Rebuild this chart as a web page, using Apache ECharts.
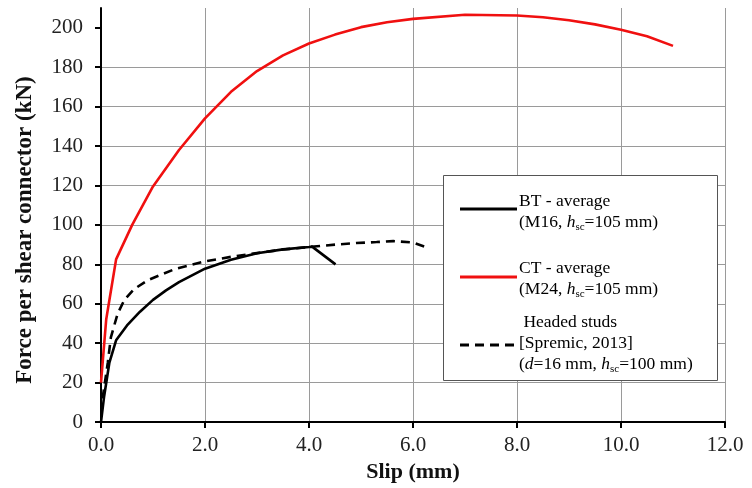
<!DOCTYPE html>
<html>
<head>
<meta charset="utf-8">
<script src="https://cdn.jsdelivr.net/npm/echarts@6/dist/echarts.min.js"></script>
<style>html,body{margin:0;padding:0;background:#fff}#c{width:752px;height:488px}</style>
</head>
<body>
<div id="c"></div>
<script>
// Slip (mm) values and force (kN) values
var btSlip  = [0, 0.06, 0.16, 0.29, 0.5, 0.75, 1.0, 1.25, 1.5, 2.0, 2.5, 3.0, 3.5, 4.0, 4.06, 4.51];
var btForce = [0, 13, 30, 41.5, 49, 56, 62, 66.8, 71, 77.8, 82.3, 85.6, 87.6, 88.8, 89, 80];

var ctSlip  = [0, 0.05, 0.1, 0.29, 0.6, 1.0, 1.5, 2.0, 2.5, 3.0, 3.5, 4.0, 4.5, 5.0, 5.5, 6.0, 7.0, 8.0, 8.5, 9.0, 9.5, 10.0, 10.5, 11.0];
var ctForce = [20, 36, 52, 82.5, 100, 119.5, 138, 154, 167.5, 178, 186, 192, 196.5, 200.3, 202.8, 204.5, 206.6, 206.2, 205.3, 203.8, 201.7, 199, 195.7, 190.8];

var hsSlip  = [0.03, 0.13, 0.19, 0.32, 0.45, 0.64, 0.9, 1.41, 2.0, 2.5, 3.0, 3.5, 4.0, 4.5, 4.91, 5.3, 5.62, 6.0, 6.32];
var hsForce = [12, 30, 43, 55, 62, 67.5, 72, 77.5, 81.5, 83.8, 85.7, 87.5, 88.8, 90, 90.8, 91.3, 91.8, 91.1, 88.1];

var xTicks = [0, 2, 4, 6, 8, 10, 12];
var yTicks = [0, 20, 40, 60, 80, 100, 120, 140, 160, 180, 200];

function pairs(xs, ys){ return xs.map(function(x,i){ return [x, ys[i]]; }); }

var serif = '"Liberation Serif", "DejaVu Serif", serif';
var chart = echarts.init(document.getElementById('c'));
var rich = {
  n: {fontFamily: serif, fontSize: 17.5, color: '#222', lineHeight: 21},
  i: {fontFamily: serif, fontSize: 17.5, color: '#222', fontStyle: 'italic', lineHeight: 21},
  s: {fontFamily: serif, fontSize: 11, color: '#222', lineHeight: 21, verticalAlign: 'bottom', padding: [8, 0, 0, 0]}
};
chart.setOption({
  animation: false,
  backgroundColor: '#fff',
  grid: {left: 101, right: 27, top: 8, bottom: 64, containLabel: false},
  xAxis: {
    type: 'value', min: 0, max: 12, interval: 2,
    name: 'Slip (mm)', nameLocation: 'middle', nameGap: 29,
    nameTextStyle: {fontFamily: serif, fontWeight: 'bold', fontSize: 22, color: '#111'},
    axisLine: {lineStyle: {color: '#000', width: 2}},
    axisTick: {show: true, inside: false, length: 6, lineStyle: {color: '#000', width: 2}},
    axisLabel: {margin: 13, fontFamily: serif, fontSize: 21, color: '#222',
      formatter: function(v){ return xTicks.indexOf(v) >= 0 ? v.toFixed(1) : ''; }},
    splitLine: {show: true, lineStyle: {color: '#9a9a9a', width: 1}}
  },
  yAxis: {
    type: 'value', min: 0, max: 210, interval: 20,
    name: 'Force per shear connector (kN)', nameLocation: 'middle', nameGap: 64,
    nameTextStyle: {fontFamily: serif, fontWeight: 'bold', fontSize: 23, color: '#111', padding: [0, 30, 0, 0]},
    axisLine: {show: true, lineStyle: {color: '#000', width: 2}},
    axisTick: {show: true, inside: false, length: 6, customValues: yTicks, lineStyle: {color: '#000', width: 2}},
    axisLabel: {margin: 18, fontFamily: serif, fontSize: 21, color: '#222', customValues: yTicks,
      formatter: function(v){ return yTicks.indexOf(v) >= 0 ? String(v) : ''; }},
    splitLine: {show: true, showMaxLine: false, lineStyle: {color: '#9a9a9a', width: 1}}
  },
  series: [
    {name: 'CT - average', type: 'line', data: pairs(ctSlip, ctForce), showSymbol: false, smooth: false,
      lineStyle: {color: '#f01010', width: 2.6}, z: 3},
    {name: 'Headed studs', type: 'line', data: pairs(hsSlip, hsForce), showSymbol: false, smooth: false,
      lineStyle: {color: '#000', width: 2.6, type: [9, 6]}, z: 4},
    {name: 'BT - average', type: 'line', data: pairs(btSlip, btForce), showSymbol: false, smooth: false,
      lineStyle: {color: '#000', width: 2.6}, z: 5}
  ],
  graphic: [
    {type: 'rect', shape: {x: 443.5, y: 175.5, width: 274, height: 205},
      style: {fill: '#fff', stroke: '#555', lineWidth: 1}, z: 10},
    {type: 'line', shape: {x1: 460, y1: 209, x2: 517, y2: 209}, style: {stroke: '#000', lineWidth: 3}, z: 11},
    {type: 'line', shape: {x1: 460, y1: 277, x2: 517, y2: 277}, style: {stroke: '#f01010', lineWidth: 3}, z: 11},
    {type: 'line', shape: {x1: 460, y1: 345, x2: 517, y2: 345}, style: {stroke: '#000', lineWidth: 3, lineDash: [9, 6]}, z: 11},
    {type: 'text', left: 519, top: 192, z: 11, style: {
      text: '{n|BT - average}\n{n|(M16, }{i|h}{s|sc}{n|=105 mm)}', rich: rich}},
    {type: 'text', left: 519, top: 259, z: 11, style: {
      text: '{n|CT - average}\n{n|(M24, }{i|h}{s|sc}{n|=105 mm)}', rich: rich}},
    {type: 'text', left: 519, top: 313, z: 11, style: {
      text: '{n| Headed studs}\n{n|[Spremic, 2013]}\n{n|(}{i|d}{n|=16 mm, }{i|h}{s|sc}{n|=100 mm)}', rich: rich}}
  ]
});
</script>
</body>
</html>
